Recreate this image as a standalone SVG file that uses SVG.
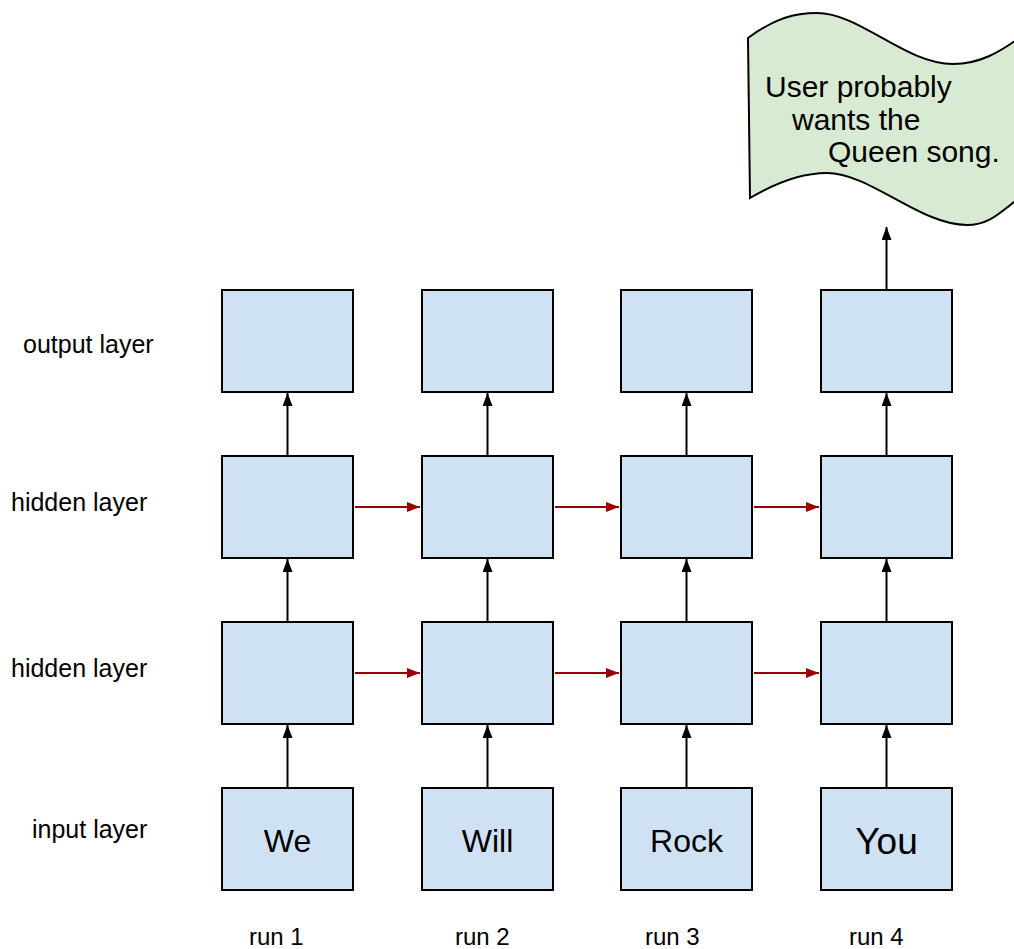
<svg xmlns="http://www.w3.org/2000/svg" width="1014" height="949" viewBox="0 0 1014 949">
<style>
.box{fill:#cfe2f3;stroke:#000;stroke-width:2}
.lbl{font-family:"Liberation Sans",Arial,sans-serif;font-size:24px;fill:#000}
.side{font-size:25px}
.flagtxt{font-size:30px}
.word{font-family:"Liberation Sans",Arial,sans-serif;font-size:32px;fill:#000;text-anchor:middle}
.up{stroke:#000;stroke-width:2;fill:none;marker-end:url(#ab)}
.rt{stroke:#990000;stroke-width:2;fill:none;marker-end:url(#ar)}
</style>
<defs>
<marker id="ab" markerWidth="13" markerHeight="10" refX="13" refY="5" orient="auto" markerUnits="userSpaceOnUse">
<path d="M0,0 L13,5 L0,10 Z" fill="#000"/>
</marker>
<marker id="ar" markerWidth="13" markerHeight="10" refX="13" refY="5" orient="auto" markerUnits="userSpaceOnUse">
<path d="M0,0 L13,5 L0,10 Z" fill="#990000"/>
</marker>
</defs>
<rect width="1014" height="949" fill="#fff"/>

<g id="row-labels">
<text class="lbl side" x="23" y="353">output layer</text>
<text class="lbl side" x="11" y="511">hidden layer</text>
<text class="lbl side" x="11" y="677">hidden layer</text>
<text class="lbl side" x="32" y="838">input layer</text>
<text class="lbl" x="249" y="945">run 1</text>
<text class="lbl" x="455" y="945">run 2</text>
<text class="lbl" x="645" y="945">run 3</text>
<text class="lbl" x="849" y="945">run 4</text>
</g>

<g id="connectors">
<line class="up" x1="287.5" y1="788" x2="287.5" y2="725"/>
<line class="up" x1="287.5" y1="622" x2="287.5" y2="559"/>
<line class="up" x1="287.5" y1="456" x2="287.5" y2="393"/>
<line class="up" x1="487.5" y1="788" x2="487.5" y2="725"/>
<line class="up" x1="487.5" y1="622" x2="487.5" y2="559"/>
<line class="up" x1="487.5" y1="456" x2="487.5" y2="393"/>
<line class="up" x1="686.5" y1="788" x2="686.5" y2="725"/>
<line class="up" x1="686.5" y1="622" x2="686.5" y2="559"/>
<line class="up" x1="686.5" y1="456" x2="686.5" y2="393"/>
<line class="up" x1="886.5" y1="788" x2="886.5" y2="725"/>
<line class="up" x1="886.5" y1="622" x2="886.5" y2="559"/>
<line class="up" x1="886.5" y1="456" x2="886.5" y2="393"/>
<line class="up" x1="886.5" y1="290" x2="886.5" y2="227"/>
<line class="rt" x1="355" y1="507" x2="420" y2="507"/>
<line class="rt" x1="555" y1="507" x2="619" y2="507"/>
<line class="rt" x1="754" y1="507" x2="819" y2="507"/>
<line class="rt" x1="355" y1="673" x2="420" y2="673"/>
<line class="rt" x1="555" y1="673" x2="619" y2="673"/>
<line class="rt" x1="754" y1="673" x2="819" y2="673"/>
</g>

<g id="out1"><rect class="box" x="222" y="290" width="131" height="102"/></g>
<g id="out2"><rect class="box" x="422" y="290" width="131" height="102"/></g>
<g id="out3"><rect class="box" x="621" y="290" width="131" height="102"/></g>
<g id="out4"><rect class="box" x="821" y="290" width="131" height="102"/></g>

<g id="hidA1"><rect class="box" x="222" y="456" width="131" height="102"/></g>
<g id="hidA2"><rect class="box" x="422" y="456" width="131" height="102"/></g>
<g id="hidA3"><rect class="box" x="621" y="456" width="131" height="102"/></g>
<g id="hidA4"><rect class="box" x="821" y="456" width="131" height="102"/></g>

<g id="hidB1"><rect class="box" x="222" y="622" width="131" height="102"/></g>
<g id="hidB2"><rect class="box" x="422" y="622" width="131" height="102"/></g>
<g id="hidB3"><rect class="box" x="621" y="622" width="131" height="102"/></g>
<g id="hidB4"><rect class="box" x="821" y="622" width="131" height="102"/></g>

<g id="in1"><rect class="box" x="222" y="788" width="131" height="102"/><text class="word" x="287.5" y="852">We</text></g>
<g id="in2"><rect class="box" x="422" y="788" width="131" height="102"/><text class="word" x="487.5" y="852">Will</text></g>
<g id="in3"><rect class="box" x="621" y="788" width="131" height="102"/><text class="word" x="686.5" y="852">Rock</text></g>
<g id="in4"><rect class="box" x="821" y="788" width="131" height="102"/><text class="word" x="886.5" y="854" style="font-size:37px">You</text></g>

<g id="flag">
<path d="M748,38 C775,18 795,13 817,13 C860,13 905,64 953,64 C980,64 1000,52 1022,36 L1022,196 C1000,212 990,225 967,225 C920,225 870,173 827,173 C800,173 772,185 750,198 Z" fill="#d9ead3" stroke="#000" stroke-width="2"/>
<text class="lbl flagtxt" x="765" y="97">User probably</text>
<text class="lbl flagtxt" x="792" y="130">wants the</text>
<text class="lbl flagtxt" x="828" y="162">Queen song.</text>
</g>
</svg>
